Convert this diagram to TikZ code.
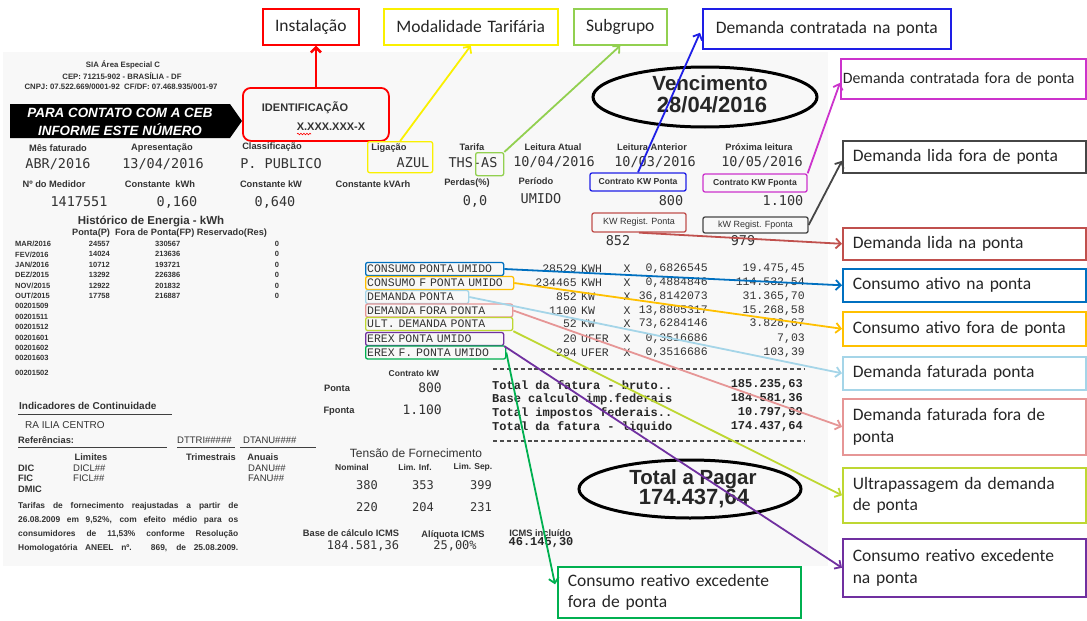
\documentclass[tikz,border=0pt]{standalone}
\usepackage{fontspec}
\setmainfont{Carlito}
\newfontfamily\bsans{Liberation Sans}
\newfontfamily\bmono{DejaVu Sans Mono}
\newfontfamily\cmono{Liberation Mono}
\usetikzlibrary{arrows.meta,shapes.geometric,decorations.pathmorphing,calc}
\newcommand\fz[2]{\fontsize{#1}{#2}\selectfont}
\definecolor{cRed}{RGB}{255,0,0}
\definecolor{cYel}{RGB}{250,240,0}
\definecolor{cLgreen}{RGB}{146,208,80}
\definecolor{cBlue}{RGB}{30,30,230}
\definecolor{cMag}{RGB}{204,51,204}
\definecolor{cGray}{RGB}{70,70,70}
\definecolor{cBrown}{RGB}{192,80,77}
\definecolor{cBlue2}{RGB}{0,112,192}
\definecolor{cOrange}{RGB}{255,192,0}
\definecolor{cLblue}{RGB}{165,213,232}
\definecolor{cPink}{RGB}{230,150,150}
\definecolor{cYG}{RGB}{190,215,50}
\definecolor{cPurple}{RGB}{112,48,160}
\definecolor{cGreen}{RGB}{0,176,80}
\definecolor{billbg}{RGB}{248,248,248}
\tikzset{
  lab/.style={inner sep=0pt, text=black!80, font=\bsans\bfseries\fz{9.3}{11}},
  val/.style={inner sep=0pt, text=black!80, font=\bmono\fz{13.5}{15}},
  hdr/.style={inner sep=0pt, text=black!80, font=\bsans\bfseries\fz{7.8}{9}},
  hist/.style={inner sep=0pt, text=black!80, font=\bsans\bfseries\fz{7.5}{9}},
  item/.style={inner sep=0pt, text=black!80, font=\cmono\fz{11.5}{12}},
  tot/.style={inner sep=0pt, text=black!85, font=\cmono\bfseries\fz{12}{13}},
  big/.style={inner sep=0pt, text=black!85, font=\bsans\bfseries\fz{20.5}{24}},
  txt/.style={inner sep=0pt, text=black!80, font=\bsans\fz{9.5}{11}},
  banner/.style={inner sep=0pt, text=white, font=\bsans\bfseries\itshape\fz{13.4}{15}},
  bbox/.style={draw=#1, line width=1.3pt, rounded corners=2pt, inner xsep=1.5pt, inner ysep=0pt},
  ibox/.style={bbox=#1, anchor=west, align=left, text=black!80, font=\cmono\fz{11.5}{12}, minimum height=13},
  cb/.style={draw=#1, line width=1.6pt, fill=white, anchor=north west, inner xsep=10pt, inner ysep=0pt, align=left, text=black!85, font=\fz{17.5}{21.5}},
  conn/.style={draw=#1, line width=1.8pt, -{Straight Barb[length=5pt,width=10pt]}},
}
\begin{document}
\begin{tikzpicture}[x=1pt,y=-1pt]
\useasboundingbox (0,0) rectangle (1087,621);
\fill[white] (0,0) rectangle (1087,621);
\fill[billbg] (3,52) rectangle (828,566);

% header
\node[hdr] (h1) at (123,65) {SIA Área Especial C};
\node[hdr] (h2) at (122,76) {CEP: 71215-902 - BRASÍLIA - DF};
\node[hdr] (h3) at (121,87) {CNPJ: 07.522.669/0001-92\ \ CF/DF: 07.468.935/001-97};
\fill[black] (10,104) -- (230,104) -- (242,121) -- (230,138) -- (10,138) -- cycle;
\node[banner] (b1) at (120,113) {PARA CONTATO COM A CEB};
\node[banner] (b2) at (120,130) {INFORME ESTE NÚMERO};

% identificacao
\node[draw=cRed, line width=1.8pt, rounded corners=8pt, minimum width=146, minimum height=53, anchor=north west, inner sep=0pt] (ident) at (242,87) {};
\node[lab, font=\bsans\bfseries\fz{11}{12}] (idt) at (305,108) {IDENTIFICAÇÃO};
\node[lab, font=\bsans\bfseries\fz{11}{12}] (idn) at (331,127) {X.XXX.XXX-X};
\draw[cRed, line width=0.6pt, decorate, decoration={snake, amplitude=0.8pt, segment length=3pt}] (297,134) -- (311,134);

% row 1
\node[lab] (r1a) at (58,148) {Mês faturado};
\node[lab] (r1b) at (162,148) {Apresentação};
\node[lab] (r1c) at (272,147) {Classificação};
\node[lab] (r1d) at (389,148) {Ligação};
\node[lab] (r1e) at (472,147) {Tarifa};
\node[lab] (r1f) at (553,147) {Leitura Atual};
\node[lab] (r1g) at (652,147) {Leitura Anterior};
\node[lab] (r1h) at (759,147) {Próxima leitura};
\node[val] (v1a) at (58,164) {ABR/2016};
\node[val] (v1b) at (163,164) {13/04/2016};
\node[val] (v1c) at (281,164) {P. PUBLICO};
\node[val] (v1d) at (413,163) {AZUL};
\node[val] (v1e) at (473,163) {THS-AS};
\node[val] (v1f) at (554,162) {10/04/2016};
\node[val] (v1g) at (655,162) {10/03/2016};
\node[val] (v1h) at (762,162) {10/05/2016};
\node[bbox=cYel, minimum width=65, minimum height=31, anchor=north west] (lig) at (367,141) {};
\node[bbox=cLgreen, minimum width=28, minimum height=23, anchor=north west] (asb) at (475,152) {};

% row 2
\node[lab] (r2a) at (54,184) {Nº do Medidor};
\node[lab] (r2b) at (160,184) {Constante\ \ kWh};
\node[lab] (r2c) at (271,184) {Constante kW};
\node[lab] (r2d) at (373,184) {Constante kVArh};
\node[lab] (r2e) at (467,183) {Perdas(\%)};
\node[lab] (r2f) at (536,181) {Período};
\node[val] (v2a) at (79,202) {1417551};
\node[val] (v2b) at (177,202) {0,160};
\node[val] (v2c) at (275,202) {0,640};
\node[val] (v2d) at (475,201) {0,0};
\node[val] (v2e) at (541,199) {UMIDO};
\node[val] (v2f) at (671,201) {800};
\node[val] (v2g) at (783,201) {1.100};
\node[bbox=cBlue, minimum width=96, minimum height=18, font=\bsans\bfseries\fz{8.6}{10}, text=black!80] (ckp) at (638,182) {Contrato KW Ponta};
\node[bbox=cMag, minimum width=104, minimum height=18, font=\bsans\bfseries\fz{8.6}{10}, text=black!80] (ckf) at (755,183) {Contrato KW Fponta};
\node[bbox=cBrown, minimum width=94, minimum height=19, font=\bsans\fz{9}{10}, text=black!80] (krp) at (639,222.5) {KW Regist. Ponta};
\node[bbox=cGray, minimum width=105, minimum height=16, font=\bsans\fz{9}{10}, text=black!80] (krf) at (755.5,225) {kW Regist. Fponta};
\node[val] (v3a) at (618,241) {852};
\node[val] (v3b) at (743,241) {979};

% vencimento
\node[draw, ellipse, line width=3pt, minimum width=224, minimum height=60, inner sep=0pt] (venc) at (705,97) {};
\node[big] (vt1) at (710,83) {Vencimento};
\node[big, font=\bsans\bfseries\fz{22}{24}] (vt2) at (712,105) {28/04/2016};

% historico
\node[lab, font=\bsans\bfseries\fz{11.5}{13}] (hh1) at (151,221) {Histórico de Energia - kWh};
\node[lab, anchor=west, font=\bsans\bfseries\fz{9.2}{11}] (hh2) at (72,233) {Ponta(P)\ \ Fora de Ponta(FP) Reservado(Res)};
\foreach \mo/\yr/\p/\f [count=\i from 0] in {MAR/2016/24557/330567, FEV/2016/14024/213636, JAN/2016/10712/193721, DEZ/2015/13292/226386, NOV/2015/12922/201832, OUT/2015/17758/216887}{
  \node[hist, anchor=west] (hm\i) at (15,{244+10.4*\i}) {\mo/\yr};
  \node[hist, anchor=east] (hp\i) at (110,{244+10.4*\i}) {\p};
  \node[hist, anchor=west] (hf\i) at (155,{244+10.4*\i}) {\f};
  \node[hist] (hr\i) at (277,{244+10.4*\i}) {0};
}
\foreach \c [count=\i from 6] in {00201509,00201511,00201512,00201601,00201602,00201603}{
  \node[hist, anchor=west] (hc\i) at (15,{244+10.4*\i}) {\c};
}
\node[hist, anchor=west] (hc12) at (15,373) {00201502};

% line items
\node[ibox=cBlue2, minimum width=138, text width=135pt] (l1) at (365,269) {CONSUMO PONTA UMIDO};
\node[ibox=cOrange, minimum width=148, text width=145pt] (l2) at (365,283) {CONSUMO F PONTA UMIDO};
\node[ibox=cLblue, minimum width=103, text width=100pt] (l3) at (365,297) {DEMANDA PONTA};
\node[ibox=cPink, minimum width=147, text width=144pt] (l4) at (365,310.5) {DEMANDA FORA PONTA};
\node[ibox=cYG, minimum width=147, text width=144pt] (l5) at (365,324) {ULT. DEMANDA PONTA};
\node[ibox=cPurple, minimum width=138, text width=135pt] (l6) at (365,339) {EREX PONTA UMIDO};
\node[ibox=cGreen, minimum width=140, text width=137pt] (l7) at (365,352.5) {EREX F. PONTA UMIDO};
\foreach \q/\u/\fa/\va/\yy [count=\i] in {28529/KWH/{0,6826545}/{19.475,45}/269, 234465/KWH/{0,4884846}/{114.532,54}/283, 852/KW/{36,8142073}/{31.365,70}/297, 1100/KW/{13,8805317}/{15.268,58}/310.5, 52/KW/{73,6284146}/{3.828,67}/324, 20/UFER/{0,3516686}/{7,03}/339, 294/UFER/{0,3516686}/{103,39}/352.5}{
  \node[item, anchor=east] (iq\i) at (577,\yy) {\q};
  \node[item, anchor=west] (iu\i) at (581,\yy) {\u};
  \node[item] (ix\i) at (627,\yy) {X};
  \node[item, anchor=east] (if\i) at (708,\yy) {\fa};
  \node[item, anchor=east] (iv\i) at (805,\yy) {\va};
}
\draw[black!70, line width=1.3pt, dash pattern=on 4pt off 2.9pt] (493,369) -- (805,369);
\draw[black!70, line width=1.3pt, dash pattern=on 4pt off 2.9pt] (493,441) -- (805,441);

% contrato kW
\node[lab, font=\bsans\bfseries\fz{8.5}{10}] (ck0) at (414,373) {Contrato kW};
\node[lab] (ck1) at (337,388) {Ponta};
\node[val, font=\bmono\fz{13}{14}, anchor=east] (ck2) at (442,388) {800};
\node[lab] (ck3) at (339,411) {Fponta};
\node[val, font=\bmono\fz{13}{14}, anchor=east] (ck4) at (442,410) {1.100};

% totals
\node[tot, anchor=west] (t1) at (492,385) {Total da fatura - bruto..};
\node[tot, anchor=west] (t2) at (492,399) {Base calculo imp.federais};
\node[tot, anchor=west] (t3) at (492,413) {Total impostos federais..};
\node[tot, anchor=west] (t4) at (492,427) {Total da fatura - liquido};
\node[tot, anchor=east] (t5) at (803,385) {185.235,63};
\node[tot, anchor=east] (t6) at (803,399) {184.581,36};
\node[tot, anchor=east] (t7) at (803,413) {10.797,99};
\node[tot, anchor=east] (t8) at (803,427) {174.437,64};

% total a pagar
\node[draw, ellipse, line width=3pt, minimum width=222, minimum height=58, inner sep=0pt] (tap) at (690,489) {};
\node[big] (tp1) at (693,479) {Total a Pagar};
\node[big, font=\bsans\bfseries\fz{22}{24}] (tp2) at (694,499) {174.437,64};

% indicadores
\node[lab, anchor=west, font=\bsans\bfseries\fz{10}{12}] (ic) at (19,406) {Indicadores de Continuidade};
\draw[black!75, line width=0.9pt] (18,414) -- (172,414);
\node[txt, anchor=west, font=\bsans\fz{10}{12}] (ra) at (25,425) {RA ILIA CENTRO};
\node[lab, anchor=west] (refs) at (18,440) {Referências:};
\draw[black!75, line width=0.9pt] (18,447) -- (167,447);
\draw[black!75, line width=0.9pt] (177,447) -- (235,447);
\draw[black!75, line width=0.9pt] (240,447) -- (316,447);
\node[txt, anchor=west] (dtt) at (177,440) {DTTRI\#\#\#\#\#};
\node[txt, anchor=west] (dta) at (243,440) {DTANU\#\#\#\#};
\node[lab] (lim) at (91,457) {Limites};
\node[lab] (tri) at (211,457) {Trimestrais};
\node[lab] (anu) at (263,457) {Anuais};
\node[lab, anchor=west] (dic) at (18,468) {DIC};
\node[txt, anchor=west] (dicl) at (73,468) {DICL\#\#};
\node[txt, anchor=west] (danu) at (248,468) {DANU\#\#};
\node[lab, anchor=west] (fic) at (18,478) {FIC};
\node[txt, anchor=west] (ficl) at (73,478) {FICL\#\#};
\node[txt, anchor=west] (fanu) at (248,478) {FANU\#\#};
\node[lab, anchor=west] (dmic) at (18,489) {DMIC};
\node[lab, anchor=west, font=\bsans\bfseries\fz{8.4}{9}] (p1) at (18,506) {\makebox[220pt][s]{Tarifas de fornecimento reajustadas a partir de}};
\node[lab, anchor=west, font=\bsans\bfseries\fz{8.4}{9}] (p2) at (18,520) {\makebox[220pt][s]{26.08.2009 em 9,52\%, com efeito médio para os}};
\node[lab, anchor=west, font=\bsans\bfseries\fz{8.4}{9}] (p3) at (18,534) {\makebox[220pt][s]{consumidores de 11,53\% conforme Resolução}};
\node[lab, anchor=west, font=\bsans\bfseries\fz{8.4}{9}] (p4) at (18,548) {\makebox[220pt][s]{Homologatória ANEEL nº. 869, de 25.08.2009.}};

% tensao
\node[txt, font=\bsans\fz{12}{14}] (tf) at (416,453) {Tensão de Fornecimento};
\node[lab, font=\bsans\bfseries\fz{8.5}{10}] (tn1) at (352,467) {Nominal};
\node[lab, font=\bsans\bfseries\fz{8.5}{10}] (tn2) at (415,467) {Lim. Inf.};
\node[lab, font=\bsans\bfseries\fz{8.5}{10}] (tn3) at (473,467) {Lim. Sep.};
\node[val, font=\bmono\fz{12}{14}] (tv1) at (367,485) {380};
\node[val, font=\bmono\fz{12}{14}] (tv2) at (423,485) {353};
\node[val, font=\bmono\fz{12}{14}] (tv3) at (481,485) {399};
\node[val, font=\bmono\fz{12}{14}] (tv4) at (367,507) {220};
\node[val, font=\bmono\fz{12}{14}] (tv5) at (423,507) {204};
\node[val, font=\bmono\fz{12}{14}] (tv6) at (481,507) {231};
\node[lab] (ic1) at (351,533) {Base de cálculo ICMS};
\node[lab] (ic2) at (453,535) {Alíquota ICMS};
\node[lab] (ic3) at (540,533) {ICMS incluído};
\node[val, font=\bmono\fz{12}{14}] (iv1) at (363,546) {184.581,36};
\node[val, font=\bmono\fz{12}{14}] (iv2) at (455,546) {25,00\%};
\node[tot] (iv3) at (541,543) {46.145,30};

% callouts
\node[cb=cRed, minimum width=96, minimum height=36, text width=76pt, align=center] (instal) at (262,8) {Instalação};
\node[cb=cYel, minimum width=174, minimum height=36, text width=154pt, align=center] (modal) at (383,8) {Modalidade Tarifária};
\node[cb=cLgreen, minimum width=93, minimum height=36, text width=73pt, align=center] (subg) at (573,8) {Subgrupo};
\node[cb=cBlue, minimum width=248, minimum height=40, text width=228pt, align=center] (dcnp) at (702,8) {Demanda contratada na ponta};
\node[cb=cMag, minimum width=245, minimum height=40, inner xsep=2pt, text width=241pt, font=\fz{15.8}{19}] (dcfp) at (840,58) {\mbox{Demanda contratada fora de ponta}};
\node[cb=cGray, minimum width=243, minimum height=32, text width=223pt] (dlfp) at (842,140) {Demanda lida fora de ponta};
\node[cb=cBrown, minimum width=243, minimum height=32, text width=223pt] (dlnp) at (842,227) {Demanda lida na ponta};
\node[cb=cBlue2, minimum width=243, minimum height=33, text width=223pt] (can) at (842,268) {Consumo ativo na ponta};
\node[cb=cOrange, minimum width=243, minimum height=34, text width=223pt] (cafp) at (842,311) {Consumo ativo fora de ponta};
\node[cb=cLblue, minimum width=243, minimum height=33, text width=223pt] (dfp) at (842,356) {Demanda faturada ponta};
\node[cb=cPink, minimum width=243, minimum height=56, text width=223pt] (dffp) at (842,398) {Demanda faturada fora de\\ponta};
\node[cb=cYG, minimum width=243, minimum height=55, text width=223pt] (ult) at (842,467) {Ultrapassagem da demanda\\de ponta};
\node[cb=cPurple, minimum width=243, minimum height=58, text width=223pt] (crnp) at (842,538) {Consumo reativo excedente\\na ponta};
\node[cb=cGreen, minimum width=243, minimum height=51, text width=223pt] (crfp) at (557,566) {Consumo reativo excedente\\fora de ponta};

% connectors
\draw[conn=cRed, line width=2.6pt] (ident.north) -- (ident.north |- instal.south);
\draw[conn=cYel] (lig.north) -- (modal.south);
\draw[conn=cLgreen] (asb.north east) -- (subg.south);
\draw[conn=cBlue] (ckp.north) -- ($(dcnp.west)+(-2,4)$);
\draw[conn=cMag] (ckf.north east) -- ($(dcfp.west)+(0,4)$);
\draw[conn=cGray] (krf.east) -- ($(dlfp.west)+(0,4)$);
\draw[conn=cBrown] (krp.south) -- (dlnp.west);
\draw[conn=cBlue2] (l1.east) -- (can.west);
\draw[conn=cOrange] (l2.east) -- (cafp.west);
\draw[conn=cLblue] (l3.east) -- (dfp.west);
\draw[conn=cPink] (l4.east) -- (dffp.west);
\draw[conn=cYG] (l5.south east) -- (ult.west);
\draw[conn=cPurple] (l6.south east) -- (crnp.west);
\draw[conn=cGreen] (l7.east) -- ($(crfp.west)+(-2,-8)$);
\end{tikzpicture}
\end{document}
